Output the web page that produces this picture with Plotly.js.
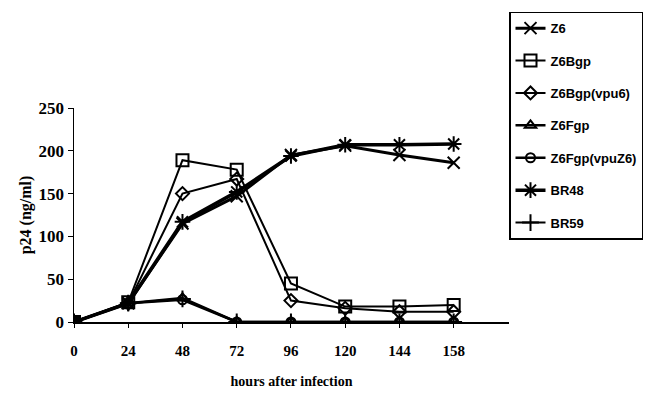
<!DOCTYPE html>
<html><head><meta charset="utf-8">
<script src="https://cdn.plot.ly/plotly-3.0.1.min.js"></script>
<style>html,body{margin:0;padding:0;background:#fff}#c{width:655px;height:395px}</style>
</head><body><div id="c"></div>
<script>
var hours = ["0","24","48","72","96","120","144","158"];
var seriesNames = ["Z6","Z6Bgp","Z6Bgp(vpu6)","Z6Fgp","Z6Fgp(vpuZ6)","BR48","BR59"];
var z6       = [0, 22, 115, 147, 195, 206, 195, 186];
var z6Bgp    = [0, 23, 189, 178, 45, 18, 18, 20];
var z6BgpVpu = [0, 22, 150, 167, 25, 16, 12, 12];
var z6Fgp    = [0, 22, 28, 0, 0, 0, 0, 0];
var z6FgpVpu = [0, 22, 26, 0, 0, 0, 0, 0];
var br48     = [0, 22, 117, 152, 194, 207, 207, 208];
var br59     = [0, 22, 27, 0, 0, 0, 0, 0];
var yTicks = [0, 50, 100, 150, 200, 250];

var values = [z6, z6Bgp, z6BgpVpu, z6Fgp, z6FgpVpu, br48, br59];
var symbols = ["x-thin-open","square-open","diamond-open","triangle-up-open","circle-open","asterisk-open","cross-thin-open"];
var sizes = [12, 12, 10, 10, 9, 13, 12];
var widths = [3, 2, 2, 2.5, 2.5, 3.5, 2];

var traces = values.map(function(v, i){
  return {
    x: hours, y: v, name: seriesNames[i], type: 'scatter', mode: 'lines+markers',
    legendgroup: 'g' + i,
    line: {color: '#000', width: widths[i]},
    marker: {symbol: symbols[i], size: sizes[i], color: '#000', line: {color: '#000', width: 2}}
  };
});

var serif = 'Liberation Serif, Times New Roman, serif';
var layout = {
  width: 655, height: 395,
  margin: {l: 74, r: 135, t: 102, b: 73},
  paper_bgcolor: '#fff', plot_bgcolor: '#fff',
  showlegend: true,
  legend: {
    x: 1.0, xanchor: 'left', y: 1.45, yanchor: 'top',
    bordercolor: '#000', borderwidth: 1.5, bgcolor: '#fff',
    font: {family: 'Liberation Sans, Arial', size: 13, color: '#000', weight: 'bold'},
    traceorder: 'grouped', tracegroupgap: 12.5, itemwidth: 30,
    maxheight: 390
  },
  xaxis: {
    type: 'category', range: [0, 8.02], showgrid: false, zeroline: false,
    showline: true, linecolor: '#000', linewidth: 1.5,
    ticks: 'outside', ticklen: 4, tickcolor: '#000', tickwidth: 1,
    ticklabelstandoff: 10,
    tickfont: {family: serif, size: 15, color: '#000', weight: 'bold'},
    title: {text: 'hours after infection', standoff: 18,
      font: {family: serif, size: 14, color: '#000', weight: 'bold'}}
  },
  yaxis: {
    range: [0, 250], tickvals: yTicks, showgrid: false, zeroline: false,
    showline: true, linecolor: '#000', linewidth: 1.5,
    ticks: 'outside', ticklen: 5, tickcolor: '#000', tickwidth: 1,
    tickfont: {family: serif, size: 17, color: '#000', weight: 'bold'},
    title: {text: 'p24 (ng/ml)', standoff: 3,
      font: {family: serif, size: 16, color: '#000', weight: 'bold'}}
  }
};

Plotly.newPlot('c', traces, layout, {displayModeBar: false, staticPlot: true});
</script></body></html>
